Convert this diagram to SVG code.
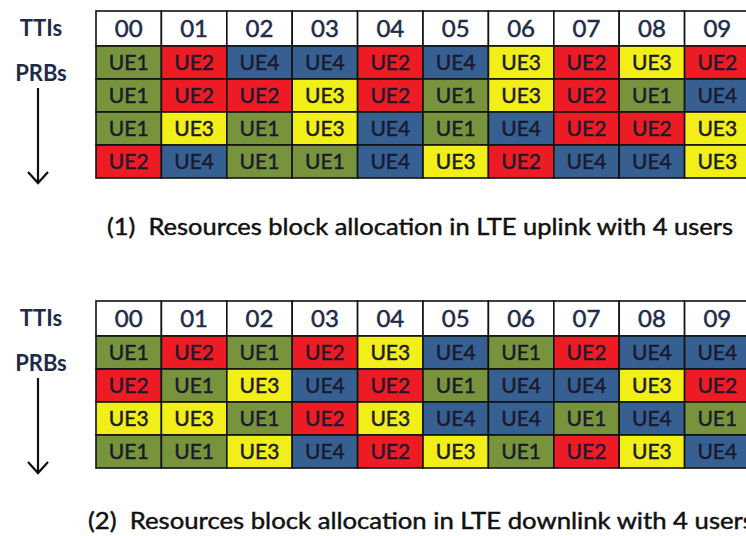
<svg xmlns="http://www.w3.org/2000/svg" width="746" height="536" viewBox="0 0 746 536">
<style>
.c{stroke:#111;stroke-width:1.6}
.h{fill:#fff}
.u1{fill:#77933c}
.u2{fill:#ed1c24}
.u3{fill:#f2ee17}
.u4{fill:#376092}
.t{font-family:Lato,"Liberation Sans",Arial,sans-serif;font-size:21px;fill:#1a1a2e;stroke:#1a1a2e;stroke-width:0.45;text-anchor:middle}
.n{font-family:Lato,"Liberation Sans",Arial,sans-serif;font-size:24px;fill:#1f2b48;stroke:#1f2b48;stroke-width:0.5;text-anchor:middle}
.lb{font-family:Lato,"Liberation Sans",Arial,sans-serif;font-size:22px;font-weight:bold;fill:#1f2b48;text-anchor:middle}
.cap{font-family:Lato,"Liberation Sans",Arial,sans-serif;font-size:23px;fill:#111;stroke:#111;stroke-width:0.45}
.ar{stroke:#111;stroke-width:2.2;fill:none}
</style>
<rect width="746" height="536" fill="#fff"/>

<g id="labels-uplink">
<text class="lb" x="41" y="36">TTIs</text>
<text class="lb" x="41" y="81">PRBs</text>
</g>
<g id="labels-downlink">
<text class="lb" x="41" y="326">TTIs</text>
<text class="lb" x="41" y="371">PRBs</text>
</g>

<g id="connectors">
<path class="ar" d="M38 88V182M28 172L38 183L48 172"/>
<path class="ar" d="M38 378V472M28 462L38 473L48 462"/>
</g>

<g id="table-uplink">
<g id="ul-header">
<rect class="c h" x="96" y="11" width="65.4" height="35"/><text class="n" x="128.7" y="37">00</text>
<rect class="c h" x="161.4" y="11" width="65.4" height="35"/><text class="n" x="194.1" y="37">01</text>
<rect class="c h" x="226.8" y="11" width="65.4" height="35"/><text class="n" x="259.5" y="37">02</text>
<rect class="c h" x="292.2" y="11" width="65.4" height="35"/><text class="n" x="324.9" y="37">03</text>
<rect class="c h" x="357.6" y="11" width="65.4" height="35"/><text class="n" x="390.3" y="37">04</text>
<rect class="c h" x="423" y="11" width="65.4" height="35"/><text class="n" x="455.7" y="37">05</text>
<rect class="c h" x="488.4" y="11" width="65.4" height="35"/><text class="n" x="521.1" y="37">06</text>
<rect class="c h" x="553.8" y="11" width="65.4" height="35"/><text class="n" x="586.5" y="37">07</text>
<rect class="c h" x="619.2" y="11" width="65.4" height="35"/><text class="n" x="651.9" y="37">08</text>
<rect class="c h" x="684.6" y="11" width="65.4" height="35"/><text class="n" x="717.3" y="37">09</text>
</g>
<g id="ul-row1">
<rect class="c u1" x="96" y="46" width="65.4" height="33"/><text class="t" x="128.7" y="70">UE1</text>
<rect class="c u2" x="161.4" y="46" width="65.4" height="33"/><text class="t" x="194.1" y="70">UE2</text>
<rect class="c u4" x="226.8" y="46" width="65.4" height="33"/><text class="t" x="259.5" y="70">UE4</text>
<rect class="c u4" x="292.2" y="46" width="65.4" height="33"/><text class="t" x="324.9" y="70">UE4</text>
<rect class="c u2" x="357.6" y="46" width="65.4" height="33"/><text class="t" x="390.3" y="70">UE2</text>
<rect class="c u4" x="423" y="46" width="65.4" height="33"/><text class="t" x="455.7" y="70">UE4</text>
<rect class="c u3" x="488.4" y="46" width="65.4" height="33"/><text class="t" x="521.1" y="70">UE3</text>
<rect class="c u2" x="553.8" y="46" width="65.4" height="33"/><text class="t" x="586.5" y="70">UE2</text>
<rect class="c u3" x="619.2" y="46" width="65.4" height="33"/><text class="t" x="651.9" y="70">UE3</text>
<rect class="c u2" x="684.6" y="46" width="65.4" height="33"/><text class="t" x="717.3" y="70">UE2</text>
</g>
<g id="ul-row2">
<rect class="c u1" x="96" y="79" width="65.4" height="33"/><text class="t" x="128.7" y="103">UE1</text>
<rect class="c u2" x="161.4" y="79" width="65.4" height="33"/><text class="t" x="194.1" y="103">UE2</text>
<rect class="c u2" x="226.8" y="79" width="65.4" height="33"/><text class="t" x="259.5" y="103">UE2</text>
<rect class="c u3" x="292.2" y="79" width="65.4" height="33"/><text class="t" x="324.9" y="103">UE3</text>
<rect class="c u2" x="357.6" y="79" width="65.4" height="33"/><text class="t" x="390.3" y="103">UE2</text>
<rect class="c u1" x="423" y="79" width="65.4" height="33"/><text class="t" x="455.7" y="103">UE1</text>
<rect class="c u3" x="488.4" y="79" width="65.4" height="33"/><text class="t" x="521.1" y="103">UE3</text>
<rect class="c u2" x="553.8" y="79" width="65.4" height="33"/><text class="t" x="586.5" y="103">UE2</text>
<rect class="c u1" x="619.2" y="79" width="65.4" height="33"/><text class="t" x="651.9" y="103">UE1</text>
<rect class="c u4" x="684.6" y="79" width="65.4" height="33"/><text class="t" x="717.3" y="103">UE4</text>
</g>
<g id="ul-row3">
<rect class="c u1" x="96" y="112" width="65.4" height="33"/><text class="t" x="128.7" y="136">UE1</text>
<rect class="c u3" x="161.4" y="112" width="65.4" height="33"/><text class="t" x="194.1" y="136">UE3</text>
<rect class="c u1" x="226.8" y="112" width="65.4" height="33"/><text class="t" x="259.5" y="136">UE1</text>
<rect class="c u3" x="292.2" y="112" width="65.4" height="33"/><text class="t" x="324.9" y="136">UE3</text>
<rect class="c u4" x="357.6" y="112" width="65.4" height="33"/><text class="t" x="390.3" y="136">UE4</text>
<rect class="c u1" x="423" y="112" width="65.4" height="33"/><text class="t" x="455.7" y="136">UE1</text>
<rect class="c u4" x="488.4" y="112" width="65.4" height="33"/><text class="t" x="521.1" y="136">UE4</text>
<rect class="c u2" x="553.8" y="112" width="65.4" height="33"/><text class="t" x="586.5" y="136">UE2</text>
<rect class="c u2" x="619.2" y="112" width="65.4" height="33"/><text class="t" x="651.9" y="136">UE2</text>
<rect class="c u3" x="684.6" y="112" width="65.4" height="33"/><text class="t" x="717.3" y="136">UE3</text>
</g>
<g id="ul-row4">
<rect class="c u2" x="96" y="145" width="65.4" height="33"/><text class="t" x="128.7" y="169">UE2</text>
<rect class="c u4" x="161.4" y="145" width="65.4" height="33"/><text class="t" x="194.1" y="169">UE4</text>
<rect class="c u1" x="226.8" y="145" width="65.4" height="33"/><text class="t" x="259.5" y="169">UE1</text>
<rect class="c u1" x="292.2" y="145" width="65.4" height="33"/><text class="t" x="324.9" y="169">UE1</text>
<rect class="c u4" x="357.6" y="145" width="65.4" height="33"/><text class="t" x="390.3" y="169">UE4</text>
<rect class="c u3" x="423" y="145" width="65.4" height="33"/><text class="t" x="455.7" y="169">UE3</text>
<rect class="c u2" x="488.4" y="145" width="65.4" height="33"/><text class="t" x="521.1" y="169">UE2</text>
<rect class="c u4" x="553.8" y="145" width="65.4" height="33"/><text class="t" x="586.5" y="169">UE4</text>
<rect class="c u4" x="619.2" y="145" width="65.4" height="33"/><text class="t" x="651.9" y="169">UE4</text>
<rect class="c u3" x="684.6" y="145" width="65.4" height="33"/><text class="t" x="717.3" y="169">UE3</text>
</g>
</g>

<g id="table-downlink">
<g id="dl-header">
<rect class="c h" x="96" y="301" width="65.4" height="35"/><text class="n" x="128.7" y="327">00</text>
<rect class="c h" x="161.4" y="301" width="65.4" height="35"/><text class="n" x="194.1" y="327">01</text>
<rect class="c h" x="226.8" y="301" width="65.4" height="35"/><text class="n" x="259.5" y="327">02</text>
<rect class="c h" x="292.2" y="301" width="65.4" height="35"/><text class="n" x="324.9" y="327">03</text>
<rect class="c h" x="357.6" y="301" width="65.4" height="35"/><text class="n" x="390.3" y="327">04</text>
<rect class="c h" x="423" y="301" width="65.4" height="35"/><text class="n" x="455.7" y="327">05</text>
<rect class="c h" x="488.4" y="301" width="65.4" height="35"/><text class="n" x="521.1" y="327">06</text>
<rect class="c h" x="553.8" y="301" width="65.4" height="35"/><text class="n" x="586.5" y="327">07</text>
<rect class="c h" x="619.2" y="301" width="65.4" height="35"/><text class="n" x="651.9" y="327">08</text>
<rect class="c h" x="684.6" y="301" width="65.4" height="35"/><text class="n" x="717.3" y="327">09</text>
</g>
<g id="dl-row1">
<rect class="c u1" x="96" y="336" width="65.4" height="33"/><text class="t" x="128.7" y="360">UE1</text>
<rect class="c u2" x="161.4" y="336" width="65.4" height="33"/><text class="t" x="194.1" y="360">UE2</text>
<rect class="c u1" x="226.8" y="336" width="65.4" height="33"/><text class="t" x="259.5" y="360">UE1</text>
<rect class="c u2" x="292.2" y="336" width="65.4" height="33"/><text class="t" x="324.9" y="360">UE2</text>
<rect class="c u3" x="357.6" y="336" width="65.4" height="33"/><text class="t" x="390.3" y="360">UE3</text>
<rect class="c u4" x="423" y="336" width="65.4" height="33"/><text class="t" x="455.7" y="360">UE4</text>
<rect class="c u1" x="488.4" y="336" width="65.4" height="33"/><text class="t" x="521.1" y="360">UE1</text>
<rect class="c u2" x="553.8" y="336" width="65.4" height="33"/><text class="t" x="586.5" y="360">UE2</text>
<rect class="c u4" x="619.2" y="336" width="65.4" height="33"/><text class="t" x="651.9" y="360">UE4</text>
<rect class="c u4" x="684.6" y="336" width="65.4" height="33"/><text class="t" x="717.3" y="360">UE4</text>
</g>
<g id="dl-row2">
<rect class="c u2" x="96" y="369" width="65.4" height="33"/><text class="t" x="128.7" y="393">UE2</text>
<rect class="c u1" x="161.4" y="369" width="65.4" height="33"/><text class="t" x="194.1" y="393">UE1</text>
<rect class="c u3" x="226.8" y="369" width="65.4" height="33"/><text class="t" x="259.5" y="393">UE3</text>
<rect class="c u4" x="292.2" y="369" width="65.4" height="33"/><text class="t" x="324.9" y="393">UE4</text>
<rect class="c u2" x="357.6" y="369" width="65.4" height="33"/><text class="t" x="390.3" y="393">UE2</text>
<rect class="c u1" x="423" y="369" width="65.4" height="33"/><text class="t" x="455.7" y="393">UE1</text>
<rect class="c u4" x="488.4" y="369" width="65.4" height="33"/><text class="t" x="521.1" y="393">UE4</text>
<rect class="c u4" x="553.8" y="369" width="65.4" height="33"/><text class="t" x="586.5" y="393">UE4</text>
<rect class="c u3" x="619.2" y="369" width="65.4" height="33"/><text class="t" x="651.9" y="393">UE3</text>
<rect class="c u2" x="684.6" y="369" width="65.4" height="33"/><text class="t" x="717.3" y="393">UE2</text>
</g>
<g id="dl-row3">
<rect class="c u3" x="96" y="402" width="65.4" height="33"/><text class="t" x="128.7" y="426">UE3</text>
<rect class="c u3" x="161.4" y="402" width="65.4" height="33"/><text class="t" x="194.1" y="426">UE3</text>
<rect class="c u1" x="226.8" y="402" width="65.4" height="33"/><text class="t" x="259.5" y="426">UE1</text>
<rect class="c u2" x="292.2" y="402" width="65.4" height="33"/><text class="t" x="324.9" y="426">UE2</text>
<rect class="c u3" x="357.6" y="402" width="65.4" height="33"/><text class="t" x="390.3" y="426">UE3</text>
<rect class="c u4" x="423" y="402" width="65.4" height="33"/><text class="t" x="455.7" y="426">UE4</text>
<rect class="c u4" x="488.4" y="402" width="65.4" height="33"/><text class="t" x="521.1" y="426">UE4</text>
<rect class="c u1" x="553.8" y="402" width="65.4" height="33"/><text class="t" x="586.5" y="426">UE1</text>
<rect class="c u4" x="619.2" y="402" width="65.4" height="33"/><text class="t" x="651.9" y="426">UE4</text>
<rect class="c u1" x="684.6" y="402" width="65.4" height="33"/><text class="t" x="717.3" y="426">UE1</text>
</g>
<g id="dl-row4">
<rect class="c u1" x="96" y="435" width="65.4" height="33"/><text class="t" x="128.7" y="459">UE1</text>
<rect class="c u1" x="161.4" y="435" width="65.4" height="33"/><text class="t" x="194.1" y="459">UE1</text>
<rect class="c u3" x="226.8" y="435" width="65.4" height="33"/><text class="t" x="259.5" y="459">UE3</text>
<rect class="c u4" x="292.2" y="435" width="65.4" height="33"/><text class="t" x="324.9" y="459">UE4</text>
<rect class="c u2" x="357.6" y="435" width="65.4" height="33"/><text class="t" x="390.3" y="459">UE2</text>
<rect class="c u3" x="423" y="435" width="65.4" height="33"/><text class="t" x="455.7" y="459">UE3</text>
<rect class="c u1" x="488.4" y="435" width="65.4" height="33"/><text class="t" x="521.1" y="459">UE1</text>
<rect class="c u2" x="553.8" y="435" width="65.4" height="33"/><text class="t" x="586.5" y="459">UE2</text>
<rect class="c u3" x="619.2" y="435" width="65.4" height="33"/><text class="t" x="651.9" y="459">UE3</text>
<rect class="c u4" x="684.6" y="435" width="65.4" height="33"/><text class="t" x="717.3" y="459">UE4</text>
</g>
</g>

<g id="captions">
<text class="cap" x="107" y="235" textLength="626" lengthAdjust="spacingAndGlyphs" xml:space="preserve">(1)  Resources block allocation in LTE uplink with 4 users</text>
<text class="cap" x="88" y="529" textLength="666" lengthAdjust="spacingAndGlyphs" xml:space="preserve">(2)  Resources block allocation in LTE downlink with 4 users</text>
</g>
</svg>
